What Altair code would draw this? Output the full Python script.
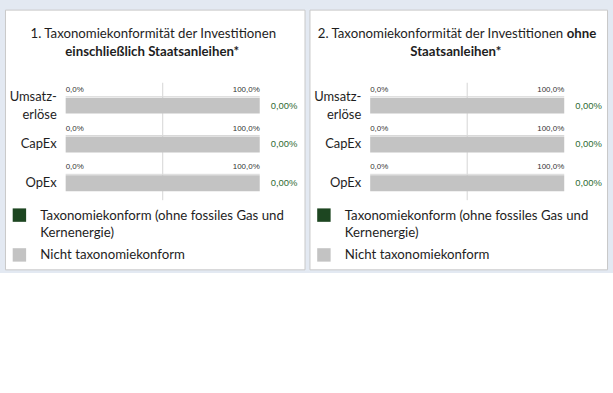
import altair as alt
import pandas as pd

# ---- data ----
categories = ["Umsatzerlöse", "CapEx", "OpEx"]
category_labels = ["Umsatz-\nerlöse", "CapEx", "OpEx"]
series = ["Taxonomiekonform (ohne fossiles Gas und Kernenergie)", "Nicht taxonomiekonform"]
aligned_incl = [0.0, 0.0, 0.0]   # panel 1: einschließlich Staatsanleihen
aligned_excl = [0.0, 0.0, 0.0]   # panel 2: ohne Staatsanleihen
tick_values = [0, 100]
tick_labels = ["0,0%", "100,0%"]
legend_lines_1 = ["Taxonomiekonform (ohne fossiles Gas und", "Kernenergie)"]
legend_lines_2 = ["Nicht taxonomiekonform"]

GREEN = "#1d4621"
GREY = "#c3c3c3"
TXT = "#1e1e1e"
FONT = "Lato"


def fmt_pct(v, d):
    return (f"{v:.{d}f}%").replace(".", ",")


def panel(aligned, title_parts, width):
    rows = []
    for c, lab, a in zip(categories, category_labels, aligned):
        rows.append({"cat": c, "label": lab, "series": series[0], "value": a, "order": 0})
        rows.append({"cat": c, "label": lab, "series": series[1], "value": 100 - a, "order": 1})
    bars_df = pd.DataFrame(rows)
    cat_df = pd.DataFrame({"cat": categories, "label": category_labels,
                           "val": [fmt_pct(a, 2) for a in aligned]})
    tick_df = pd.DataFrame([{"cat": c, "t": t, "tl": tl}
                            for c in categories for t, tl in zip(tick_values, tick_labels)])

    xs = alt.Scale(domain=[0, 100], range=[61, 256])
    ys = alt.Scale(domain=categories, range=[77, 194], paddingInner=0, paddingOuter=0)
    Y = alt.Y("cat:N", scale=ys, axis=None, sort=categories)

    grid = alt.Chart(pd.DataFrame({"g": [50]})).mark_rule(color="#d6d6d6", strokeWidth=1).encode(
        x=alt.X("g:Q", scale=xs, axis=None), y=alt.value(73.5), y2=alt.value(191.5))

    domain = alt.Chart(cat_df).mark_rule(color="#d9d9d9", strokeWidth=1, yOffset=-9).encode(
        x=alt.X("z:Q", scale=xs, axis=None), x2=alt.X2("h:Q"), y=Y
    ).transform_calculate(z="0", h="100")

    bars = alt.Chart(bars_df).mark_bar(height=16).encode(
        x=alt.X("value:Q", stack="zero", scale=xs, axis=None),
        y=Y,
        color=alt.Color("series:N", scale=alt.Scale(domain=series, range=[GREEN, GREY]), legend=None),
        order=alt.Order("order:Q"),
    )

    tick_left = alt.Chart(tick_df).transform_filter("datum.t == 0").mark_text(
        align="left", baseline="middle", fontSize=8, font="Liberation Sans", color="#333333",
        yOffset=-16).encode(x=alt.X("t:Q", scale=xs, axis=None), y=Y, text="tl:N")
    tick_right = alt.Chart(tick_df).transform_filter("datum.t == 100").mark_text(
        align="right", baseline="middle", fontSize=8, font="Liberation Sans", color="#333333",
        yOffset=-16).encode(x=alt.X("t:Q", scale=xs, axis=None), y=Y, text="tl:N")

    cat_single = alt.Chart(cat_df).transform_filter("indexof(datum.label, '\\n') < 0").mark_text(
        align="right", baseline="middle", fontSize=13, font=FONT, color=TXT, dx=-9).encode(
        x=alt.X("z:Q", scale=xs, axis=None), y=Y, text="label:N"
    ).transform_calculate(z="0")
    cat_multi = alt.Chart(cat_df).transform_filter("indexof(datum.label, '\\n') >= 0").mark_text(
        align="right", baseline="middle", fontSize=13, font=FONT, color=TXT, dx=-9,
        lineBreak="\n", lineHeight=18, yOffset=-9).encode(
        x=alt.X("z:Q", scale=xs, axis=None), y=Y, text="label:N"
    ).transform_calculate(z="0")

    val_text = alt.Chart(cat_df).mark_text(
        align="left", baseline="middle", fontSize=9.5, font="Liberation Sans", color="#2f6b33",
        dx=11).encode(
        x=alt.X("h:Q", scale=xs, axis=None), y=Y, text="val:N"
    ).transform_calculate(h="100")

    layers = [grid, domain, bars, tick_left, tick_right, cat_single, cat_multi, val_text]

    # title
    for part in title_parts:
        txt, x, y, align, weight = part
        layers.append(alt.Chart(pd.DataFrame({"t": [txt]})).mark_text(
            align=align, baseline="middle", fontSize=13.3, font=FONT, color=TXT,
            fontWeight=weight).encode(x=alt.value(x), y=alt.value(y), text="t:N"))

    # legend
    cscale = alt.Scale(domain=series, range=[GREEN, GREY])
    layers.append(alt.Chart(pd.DataFrame({"s": [series[0]]})).mark_square(size=182, opacity=1).encode(
        x=alt.value(14.5), y=alt.value(206.5), color=alt.Color("s:N", scale=cscale, legend=None)))
    layers.append(alt.Chart(pd.DataFrame({"s": [series[1]]})).mark_square(size=182, opacity=1).encode(
        x=alt.value(14.5), y=alt.value(246.5), color=alt.Color("s:N", scale=cscale, legend=None)))
    layers.append(alt.Chart(pd.DataFrame({"t": ["\n".join(legend_lines_1)]})).mark_text(
        align="left", baseline="middle", fontSize=13.3, font=FONT, color=TXT, lineBreak="\n",
        lineHeight=17).encode(x=alt.value(35.5), y=alt.value(207.5), text="t:N"))
    layers.append(alt.Chart(pd.DataFrame({"t": legend_lines_2})).mark_text(
        align="left", baseline="middle", fontSize=13.3, font=FONT, color=TXT).encode(
        x=alt.value(35.5), y=alt.value(246.5), text="t:N"))

    return alt.layer(*layers).resolve_scale(color="shared").properties(width=width, height=261)


p1 = panel(aligned_incl, [
    ("1. Taxonomiekonformität der Investitionen", 149, 24.5, "center", "normal"),
    ("einschließlich Staatsanleihen*", 148, 42.5, "center", "bold"),
], 301)
p2 = panel(aligned_excl, [
    ("2. Taxonomiekonformität der Investitionen", 255, 24.5, "right", "normal"),
    ("ohne", 258.5, 24.5, "left", "bold"),
    ("Staatsanleihen*", 147, 42.5, "center", "bold"),
], 299)

chart = alt.hconcat(p1, p2, spacing=3).properties(
    background="#e3e9f2",
    padding={"left": 4, "top": 8, "right": 5, "bottom": 2},
).configure_view(fill="white", stroke="#c9c9c9", strokeWidth=1)

chart.save("out.html", embed_options={"renderer": "svg", "actions": False})
